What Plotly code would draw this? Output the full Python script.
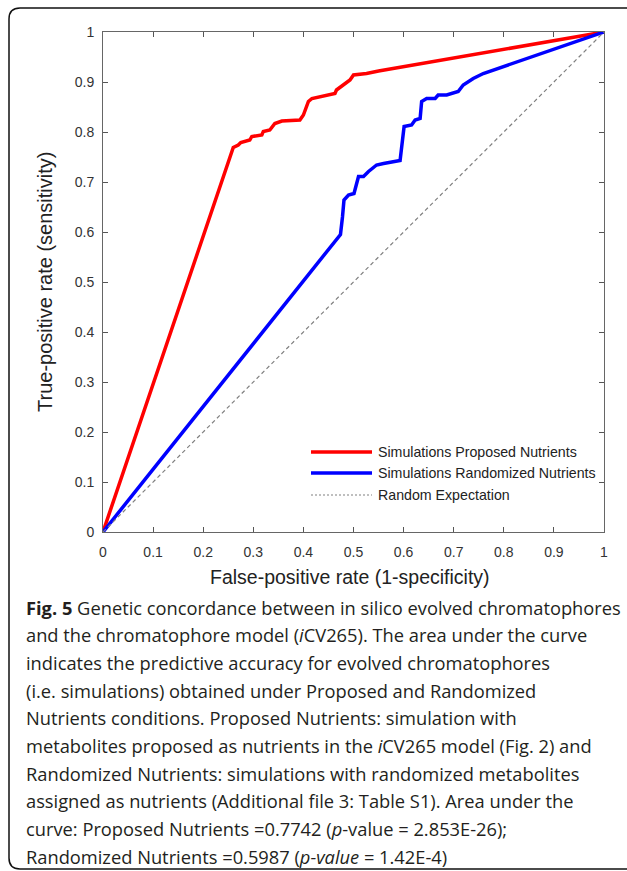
import plotly.graph_objects as go

# ROC curves: false-positive rate vs true-positive rate
proposed_fpr = [0.0, 0.260, 0.270, 0.275, 0.293, 0.297, 0.317, 0.320, 0.333, 0.343,
                0.357, 0.393, 0.400, 0.410, 0.417, 0.463, 0.466, 0.476, 0.493, 0.500,
                0.526, 0.550, 1.0]
proposed_tpr = [0.0, 0.769, 0.774, 0.779, 0.784, 0.791, 0.794, 0.801, 0.804, 0.817,
                0.822, 0.824, 0.834, 0.861, 0.867, 0.877, 0.884, 0.891, 0.904, 0.914,
                0.917, 0.922, 1.0]

randomized_fpr = [0.0, 0.474, 0.478, 0.481, 0.490, 0.501, 0.510, 0.520, 0.530, 0.546,
                  0.560, 0.579, 0.593, 0.601, 0.616, 0.623, 0.633, 0.636, 0.646, 0.663,
                  0.669, 0.686, 0.709, 0.719, 0.739, 0.759, 1.0]
randomized_tpr = [0.0, 0.595, 0.630, 0.664, 0.674, 0.677, 0.711, 0.711, 0.721, 0.734,
                  0.737, 0.741, 0.743, 0.811, 0.814, 0.824, 0.827, 0.861, 0.867, 0.867,
                  0.874, 0.874, 0.881, 0.894, 0.907, 0.917, 1.0]

random_fpr = [0.0, 1.0]
random_tpr = [0.0, 1.0]

series_names = ["Simulations Proposed Nutrients",
                "Simulations Randomized Nutrients",
                "Random Expectation"]

tick_values = [0, 0.1, 0.2, 0.3, 0.4, 0.5, 0.6, 0.7, 0.8, 0.9, 1]
tick_labels = ["0", "0.1", "0.2", "0.3", "0.4", "0.5", "0.6", "0.7", "0.8", "0.9", "1"]

x_title = "False-positive rate (1-specificity)"
y_title = "True-positive rate (sensitivity)"

caption_lines = [
    "<b>Fig. 5</b> Genetic concordance between in silico evolved chromatophores",
    "and the chromatophore model (<i>i</i>CV265). The area under the curve",
    "indicates the predictive accuracy for evolved chromatophores",
    "(i.e. simulations) obtained under Proposed and Randomized",
    "Nutrients conditions. Proposed Nutrients: simulation with",
    "metabolites proposed as nutrients in the <i>i</i>CV265 model (Fig. 2) and",
    "Randomized Nutrients: simulations with randomized metabolites",
    "assigned as nutrients (Additional file 3: Table S1). Area under the",
    "curve: Proposed Nutrients =0.7742 (<i>p</i>-value = 2.853E-26);",
    "Randomized Nutrients =0.5987 (<i>p-value</i> = 1.42E-4)",
]

W, H = 627, 871
L, R, T, B = 103, 604, 32, 532  # plot area edges in pixels


def px_x(px):
    return (px - L) / (R - L)


def px_y(py):
    return (B - py) / (B - T)


line_styles = [
    dict(color="#ff0000", width=3.5),
    dict(color="#0000ff", width=3.5),
    dict(color="#808080", width=1.2, dash="4px,3px"),
]

fig = go.Figure()
for xs, ys, name, style in zip([proposed_fpr, randomized_fpr, random_fpr],
                               [proposed_tpr, randomized_tpr, random_tpr],
                               series_names, line_styles):
    fig.add_trace(go.Scatter(x=xs, y=ys, mode="lines", name=name, line=style,
                             showlegend=False))

axis_common = dict(
    range=[0, 1], tickvals=tick_values, ticktext=tick_labels,
    ticks="inside", ticklen=5, tickwidth=1, tickcolor="#555",
    showline=True, linecolor="#666", linewidth=1, mirror="ticks",
    showgrid=False, zeroline=False,
    tickfont=dict(family="Liberation Sans", size=14, color="#333"),
    fixedrange=True,
)
fig.update_xaxes(**axis_common, ticklabelstandoff=7)
fig.update_yaxes(**axis_common, ticklabelstandoff=5)

annotations = [
    dict(text=x_title, x=px_x(350), y=px_y(577), xref="paper", yref="paper",
         showarrow=False, xanchor="center", yanchor="middle",
         font=dict(family="Liberation Sans", size=19.5, color="#222")),
    dict(text=y_title, x=px_x(45), y=px_y(282), xref="paper", yref="paper",
         showarrow=False, xanchor="center", yanchor="middle", textangle=-90,
         font=dict(family="Liberation Sans", size=20, color="#222")),
]
for i, line in enumerate(caption_lines):
    annotations.append(dict(
        text=line, x=px_x(24), y=px_y(607 + 27.7 * i), xref="paper", yref="paper",
        showarrow=False, xanchor="left", yanchor="middle", align="left",
        font=dict(family="Open Sans", size=18.3, color="#231f20")))

shapes = []

# legend drawn inside the plot: long line samples followed by labels
legend_rows = [452, 473, 495]
for name, style, row in zip(series_names, line_styles, legend_rows):
    sample = dict(style)
    if "dash" in sample:
        sample["dash"] = "2px,2px"
    shapes.append(dict(type="line", xref="paper", yref="paper",
                       x0=px_x(311), x1=px_x(372), y0=px_y(row), y1=px_y(row),
                       line=sample))
    annotations.append(dict(text=name, x=px_x(376), y=px_y(row), xref="paper", yref="paper",
                            showarrow=False, xanchor="left", yanchor="middle",
                            font=dict(family="Liberation Sans", size=14.2, color="#222")))

# rounded frame around the figure
fl, ft, fb, fr, rad = 9, 8, 869, 660, 11
frame_path = (
    f"M {px_x(fr)},{px_y(ft)} L {px_x(fl + rad)},{px_y(ft)} "
    f"Q {px_x(fl)},{px_y(ft)} {px_x(fl)},{px_y(ft + rad)} "
    f"L {px_x(fl)},{px_y(fb - rad)} "
    f"Q {px_x(fl)},{px_y(fb)} {px_x(fl + rad)},{px_y(fb)} "
    f"L {px_x(fr)},{px_y(fb)}"
)
shapes.append(dict(type="path", path=frame_path, xref="paper", yref="paper",
                   line=dict(color="#111", width=1.5)))

fig.update_layout(
    width=W, height=H,
    margin=dict(l=L, r=W - R, t=T, b=H - B, pad=0),
    paper_bgcolor="white", plot_bgcolor="white",
    showlegend=False,
    annotations=annotations,
    shapes=shapes,
)

fig.write_html("out.html")
